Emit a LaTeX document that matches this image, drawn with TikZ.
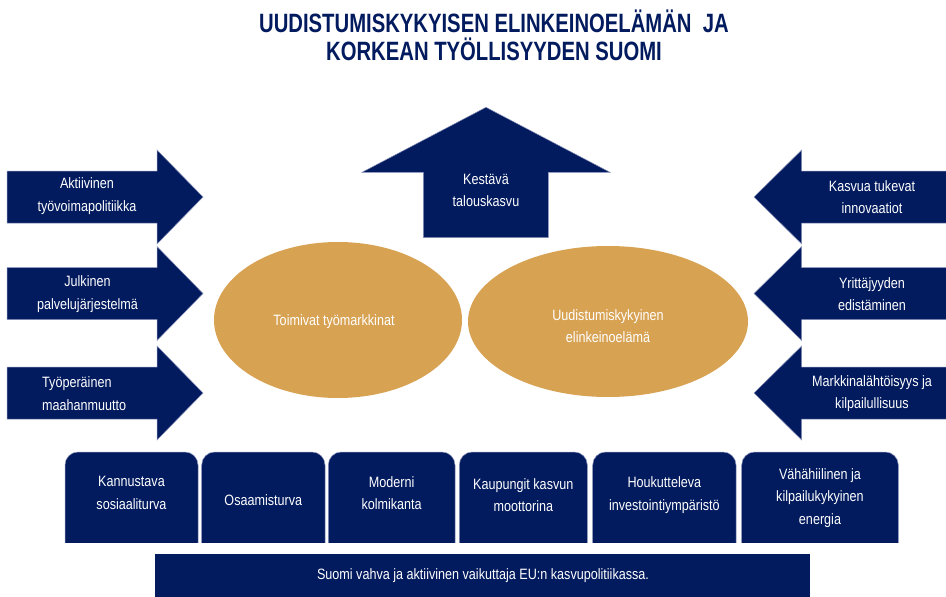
\documentclass[tikz,border=0pt]{standalone}
\usepackage{fontspec}
\usetikzlibrary{shapes.geometric}
\newfontfamily\bodyfont{Liberation Sans}[FakeStretch=0.84]
\newfontfamily\titlefont{Liberation Sans}[FakeStretch=0.765]
\definecolor{navy}{HTML}{021A5E}
\definecolor{navyedge}{HTML}{8A93BA}
\definecolor{gold}{HTML}{D8A253}
\tikzset{
  navyshape/.style={fill=navy, draw=navyedge, line width=0.5pt},
  txt/.style={text=white, align=center, inner sep=0pt, font=\bodyfont\fontsize{15}{22.5}\selectfont},
  titletxt/.style={text=navy, inner sep=0pt, anchor=base, font=\titlefont\bfseries\fontsize{26.5}{30}\selectfont},
  oval/.style={ellipse, fill=gold, draw=none, inner sep=0pt},
  boxshape/.style={fill=navy, draw=navyedge, line width=0.5pt, rounded corners=13pt}
}
\newcommand\botbox[5]{%
  \begin{scope}
    \clip (#2-2,440) rectangle (#3+2,542);
    \path[boxshape] (#2,452) rectangle (#3,575);
  \end{scope}
  \node[txt] (#1) at ({(#2+#3)/2},#4) {#5};
}
\begin{document}
\begin{tikzpicture}[x=1pt,y=-1pt]
\useasboundingbox[fill=white] (0,0) rectangle (946,597);

% title
\node[titletxt] (t1) at (494,32) {UUDISTUMISKYKYISEN ELINKEINOELÄMÄN\ \ JA};
\node[titletxt] (t2) at (494,60.5) {KORKEAN TYÖLLISYYDEN SUOMI};

% up arrow
\path[navyshape] (423.3,237.5) -- (423.3,172.3) -- (362,172.3) -- (486,107.3)
  -- (610,172.3) -- (548.3,172.3) -- (548.3,237.5) -- cycle;
\node[txt] (up) at (486,190.5) {Kestävä\\talouskasvu};

% left arrows
\foreach \c in {197,293.5,393}{
  \path[navyshape] (7,\c-26) -- (157,\c-26) -- (157,\c-47) -- (203,\c)
    -- (157,\c+47) -- (157,\c+26) -- (7,\c+26) -- cycle;
}
\node[txt] (l1) at (87,196) {Aktiivinen\\työvoimapolitiikka};
\node[txt] (l2) at (87.5,294) {Julkinen\\palvelujärjestelmä};
\node[txt, align=left, anchor=west] (l3) at (42,393.5) {Työperäinen\\maahanmuutto};

% right arrows
\foreach \c in {197,293.5,393}{
  \path[navyshape] (947,\c-26) -- (801.7,\c-26) -- (801.7,\c-47) -- (754,\c)
    -- (801.7,\c+47) -- (801.7,\c+26) -- (947,\c+26) -- cycle;
}
\node[txt] (r1) at (872,197) {Kasvua tukevat\\innovaatiot};
\node[txt] (r2) at (872,294) {Yrittäjyyden\\edistäminen};
\node[txt] (r3) at (872,393.5) {Markkinalähtöisyys ja\\kilpailullisuus};

% ellipses
\node[oval, minimum width=248pt, minimum height=156pt] (e1) at (338,320) {};
\node[oval, minimum width=280pt, minimum height=151pt] (e2) at (608,321.5) {};
\node[txt] (e1t) at (334,322) {Toimivat työmarkkinat};
\node[txt] (e2t) at (608,326) {Uudistumiskykyinen\\elinkeinoelämä};

% bottom boxes
\botbox{b1}{65}{198}{493}{Kannustava\\sosiaaliturva}
\botbox{b2}{201.7}{325}{500}{Osaamisturva}
\botbox{b3}{328.3}{455}{493}{Moderni\\kolmikanta}
\botbox{b4}{459.3}{587.3}{495}{Kaupungit kasvun\\moottorina}
\botbox{b5}{592.7}{736}{495}{Houkutteleva\\investointiympäristö}
\botbox{b6}{741.7}{898.3}{498}{Vähähiilinen ja\\kilpailukykyinen\\energia}

% banner
\path[fill=navy] (155,554) rectangle (810,598);
\node[txt] (ban) at (483,576) {Suomi vahva ja aktiivinen vaikuttaja EU:n kasvupolitiikassa.};
\end{tikzpicture}
\end{document}
